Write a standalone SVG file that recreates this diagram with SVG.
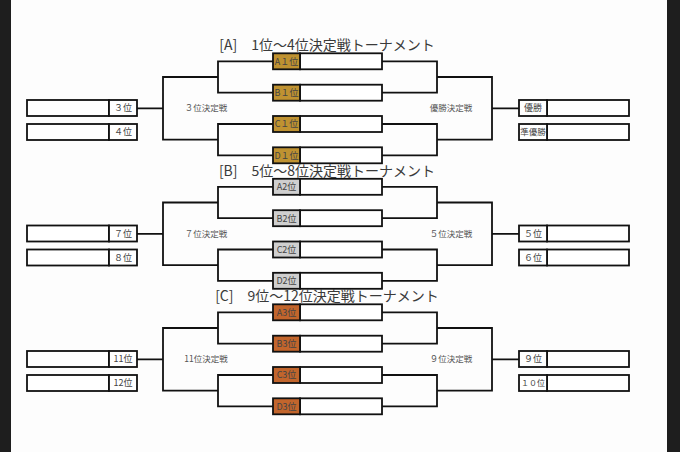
<svg xmlns="http://www.w3.org/2000/svg" width="680" height="452" viewBox="0 0 680 452">
<style>
.bx{fill:#fff;stroke:#111;stroke-width:1.8}
.gold{fill:#BF9231;stroke:#111;stroke-width:1.8}
.silver{fill:#CFCFCF;stroke:#111;stroke-width:1.8}
.copper{fill:#C2652C;stroke:#111;stroke-width:1.8}
.ln{fill:none;stroke:#111;stroke-width:1.8;stroke-linejoin:miter}
.lb{font-family:"Noto Sans CJK JP","Noto Sans",sans-serif;font-size:9px;fill:#444;text-anchor:middle}
.cap{font-family:"Noto Sans CJK JP","Noto Sans",sans-serif;font-size:8.5px;fill:#555;text-anchor:middle}
.ttl{font-family:"Noto Sans CJK JP","Noto Sans",sans-serif;font-size:14px;fill:#3a3a3a;text-anchor:middle}
</style>
<rect x="0" y="0" width="680" height="452" fill="#1e1e1e"/>
<rect x="11" y="0" width="656" height="452" fill="#fdfdfd"/>

<!-- Section A -->
<g id="sectionA">
  <text class="ttl" x="327" y="50">[A]　1位～4位決定戦トーナメント</text>
  <g id="connectorsA">
    <path class="ln" d="M273,61.3H218V92.7H273M218,77H163V139.7H218M273,124H218V155.3H273M163,108.3H137"/>
    <path class="ln" d="M382,61.3H437V92.7H382M437,77H492V139.7H437M382,124H437V155.3H382M492,108.3H519"/>
  </g>
  <g id="A1"><rect class="bx" x="300" y="53.3" width="82" height="16"/><rect class="gold" x="273" y="53.3" width="27" height="16"/><text class="lb" x="286.5" y="64.6">A１位</text></g>
  <g id="B1"><rect class="bx" x="300" y="84.7" width="82" height="16"/><rect class="gold" x="273" y="84.7" width="27" height="16"/><text class="lb" x="286.5" y="96">B１位</text></g>
  <g id="C1"><rect class="bx" x="300" y="116" width="82" height="16"/><rect class="gold" x="273" y="116" width="27" height="16"/><text class="lb" x="286.5" y="127.3">C１位</text></g>
  <g id="D1"><rect class="bx" x="300" y="147.3" width="82" height="16"/><rect class="gold" x="273" y="147.3" width="27" height="16"/><text class="lb" x="286.5" y="158.6">D１位</text></g>
  <g id="p3"><rect class="bx" x="27" y="100" width="82" height="16"/><rect class="bx" x="109" y="100" width="28" height="16"/><text class="lb" x="123" y="111.3">３位</text></g>
  <g id="p4"><rect class="bx" x="27" y="124" width="82" height="16"/><rect class="bx" x="109" y="124" width="28" height="16"/><text class="lb" x="123" y="135.3">４位</text></g>
  <g id="p1"><rect class="bx" x="547" y="100" width="82" height="16"/><rect class="bx" x="519" y="100" width="28" height="16"/><text class="lb" x="533" y="111.3">優勝</text></g>
  <g id="p2"><rect class="bx" x="547" y="124" width="82" height="16"/><rect class="bx" x="519" y="124" width="28" height="16"/><text class="lb" x="533" y="135.3" style="font-size:8.5px">準優勝</text></g>
  <text class="cap" x="206" y="111">３位決定戦</text>
  <text class="cap" x="451" y="111">優勝決定戦</text>
</g>

<!-- Section B -->
<g id="sectionB" transform="translate(0,125.5)">
  <text class="ttl" x="327" y="50">[B]　5位～8位決定戦トーナメント</text>
  <g id="connectorsB">
    <path class="ln" d="M273,61.3H218V92.7H273M218,77H163V139.7H218M273,124H218V155.3H273M163,108.3H137"/>
    <path class="ln" d="M382,61.3H437V92.7H382M437,77H492V139.7H437M382,124H437V155.3H382M492,108.3H519"/>
  </g>
  <g id="A2"><rect class="bx" x="300" y="53.3" width="82" height="16"/><rect class="silver" x="273" y="53.3" width="27" height="16"/><text class="lb" x="286.5" y="64.6">A2位</text></g>
  <g id="B2"><rect class="bx" x="300" y="84.7" width="82" height="16"/><rect class="silver" x="273" y="84.7" width="27" height="16"/><text class="lb" x="286.5" y="96">B2位</text></g>
  <g id="C2"><rect class="bx" x="300" y="116" width="82" height="16"/><rect class="silver" x="273" y="116" width="27" height="16"/><text class="lb" x="286.5" y="127.3">C2位</text></g>
  <g id="D2"><rect class="bx" x="300" y="147.3" width="82" height="16"/><rect class="silver" x="273" y="147.3" width="27" height="16"/><text class="lb" x="286.5" y="158.6">D2位</text></g>
  <g id="p7"><rect class="bx" x="27" y="100" width="82" height="16"/><rect class="bx" x="109" y="100" width="28" height="16"/><text class="lb" x="123" y="111.3">７位</text></g>
  <g id="p8"><rect class="bx" x="27" y="124" width="82" height="16"/><rect class="bx" x="109" y="124" width="28" height="16"/><text class="lb" x="123" y="135.3">８位</text></g>
  <g id="p5"><rect class="bx" x="547" y="100" width="82" height="16"/><rect class="bx" x="519" y="100" width="28" height="16"/><text class="lb" x="533" y="111.3">５位</text></g>
  <g id="p6"><rect class="bx" x="547" y="124" width="82" height="16"/><rect class="bx" x="519" y="124" width="28" height="16"/><text class="lb" x="533" y="135.3">６位</text></g>
  <text class="cap" x="206" y="111">７位決定戦</text>
  <text class="cap" x="451" y="111">５位決定戦</text>
</g>

<!-- Section C -->
<g id="sectionC" transform="translate(0,251)">
  <text class="ttl" x="327" y="50">[C]　9位～12位決定戦トーナメント</text>
  <g id="connectorsC">
    <path class="ln" d="M273,61.3H218V92.7H273M218,77H163V139.7H218M273,124H218V155.3H273M163,108.3H137"/>
    <path class="ln" d="M382,61.3H437V92.7H382M437,77H492V139.7H437M382,124H437V155.3H382M492,108.3H519"/>
  </g>
  <g id="A3"><rect class="bx" x="300" y="53.3" width="82" height="16"/><rect class="copper" x="273" y="53.3" width="27" height="16"/><text class="lb" x="286.5" y="64.6">A3位</text></g>
  <g id="B3"><rect class="bx" x="300" y="84.7" width="82" height="16"/><rect class="copper" x="273" y="84.7" width="27" height="16"/><text class="lb" x="286.5" y="96">B3位</text></g>
  <g id="C3"><rect class="bx" x="300" y="116" width="82" height="16"/><rect class="copper" x="273" y="116" width="27" height="16"/><text class="lb" x="286.5" y="127.3">C3位</text></g>
  <g id="D3"><rect class="bx" x="300" y="147.3" width="82" height="16"/><rect class="copper" x="273" y="147.3" width="27" height="16"/><text class="lb" x="286.5" y="158.6">D3位</text></g>
  <g id="p11"><rect class="bx" x="27" y="100" width="82" height="16"/><rect class="bx" x="109" y="100" width="28" height="16"/><text class="lb" x="123" y="111.3">11位</text></g>
  <g id="p12"><rect class="bx" x="27" y="124" width="82" height="16"/><rect class="bx" x="109" y="124" width="28" height="16"/><text class="lb" x="123" y="135.3">12位</text></g>
  <g id="p9"><rect class="bx" x="547" y="100" width="82" height="16"/><rect class="bx" x="519" y="100" width="28" height="16"/><text class="lb" x="533" y="111.3">９位</text></g>
  <g id="p10"><rect class="bx" x="547" y="124" width="82" height="16"/><rect class="bx" x="519" y="124" width="28" height="16"/><text class="lb" x="533" y="135.3" style="font-size:8px">１０位</text></g>
  <text class="cap" x="206" y="111">11位決定戦</text>
  <text class="cap" x="451" y="111">９位決定戦</text>
</g>
</svg>
